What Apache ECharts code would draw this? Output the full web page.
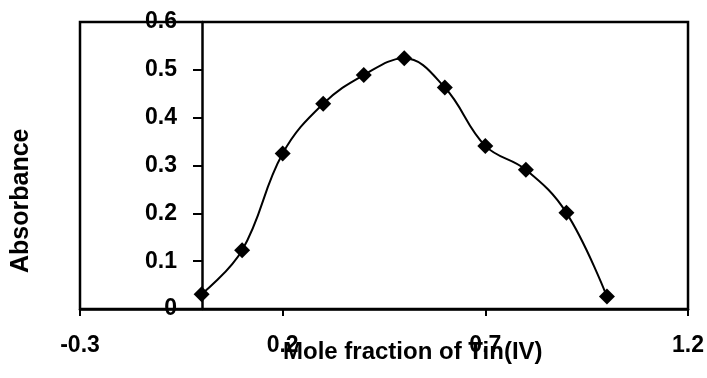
<!DOCTYPE html>
<html>
<head>
<meta charset="utf-8">
<script src="https://cdn.jsdelivr.net/npm/echarts@6/dist/echarts.min.js"></script>
<style>
  html, body { margin: 0; padding: 0; background: #fff; }
  #chart { width: 707px; height: 378px; }
</style>
</head>
<body>
<div id="chart"></div>
<script>
const moleFraction = [0, 0.1, 0.2, 0.3, 0.4, 0.5, 0.6, 0.7, 0.8, 0.9, 1.0];
const absorbance = [0.031, 0.123, 0.325, 0.429, 0.489, 0.524, 0.463, 0.341, 0.291, 0.201, 0.026];
const xTicks = [-0.3, 0.2, 0.7, 1.2];

const font = "'Liberation Sans', Arial, sans-serif";
const chart = echarts.init(document.getElementById("chart"));

// y axis sits at x = 0, i.e. 0.3/1.5 of the 609px plot width from the left edge
const plotW = 707 - 80 - 18;
const yAxisShift = Math.round(plotW * 0.3 / 1.5);

chart.setOption({
  animation: false,
  grid: {
    left: 80,
    right: 18,
    top: 22,
    bottom: 69,
    show: true,
    borderColor: "#000",
    borderWidth: 2.5,
  },
  xAxis: {
    type: "value",
    min: -0.3,
    max: 1.2,
    splitLine: { show: false },
    axisLine: { onZero: false, lineStyle: { color: "#000", width: 2.5 } },
    axisTick: {
      customValues: xTicks,
      length: 7,
      lineStyle: { color: "#000", width: 2 },
    },
    axisLabel: {
      customValues: xTicks,
      margin: 25,
      color: "#000",
      fontSize: 23,
      fontWeight: "bold",
      fontFamily: font,
    },
  },
  yAxis: {
    type: "value",
    min: 0,
    max: 0.6,
    interval: 0.1,
    offset: -yAxisShift,
    splitLine: { show: false },
    axisLine: { onZero: false, lineStyle: { color: "#000", width: 2.5 } },
    axisTick: { length: 9, lineStyle: { color: "#000", width: 2 } },
    axisLabel: {
      margin: 25,
      color: "#000",
      fontSize: 23,
      fontWeight: "bold",
      fontFamily: font,
    },
  },
  graphic: [
    {
      type: "text",
      left: 283,
      top: 340,
      style: {
        text: "Mole fraction of Tin(IV)",
        fill: "#000",
        font: "bold 24px " + font,
      },
    },
    {
      type: "text",
      rotation: Math.PI / 2,
      x: 9,
      y: 273,
      style: {
        text: "Absorbance",
        fill: "#000",
        font: "bold 25px " + font,
      },
    },
  ],
  series: [
    {
      type: "line",
      data: moleFraction.map((x, i) => [x, absorbance[i]]),
      smooth: 0.4,
      symbol: "diamond",
      symbolSize: 16,
      itemStyle: { color: "#000" },
      lineStyle: { color: "#000", width: 2 },
    },
  ],
});
</script>
</body>
</html>
